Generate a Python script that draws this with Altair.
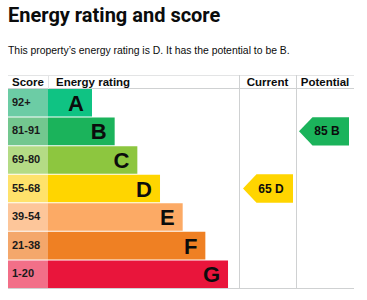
import altair as alt
import pandas as pd

# ---- data ----
ratings = ["A", "B", "C", "D", "E", "F", "G"]
score_bands = ["92+", "81-91", "69-80", "55-68", "39-54", "21-38", "1-20"]
band_colors = ["#0fc383", "#1bb35b", "#8dc63f", "#ffd500", "#fcaa65", "#ef8023", "#e9153b"]
score_colors = ["#6ccca5", "#73c78f", "#b4db85", "#ffe26b", "#fdc69a", "#f4a76b", "#f26f88"]
headers = ["Score", "Energy rating", "Current", "Potential"]
current_score, current_rating = 65, "D"
potential_score, potential_rating = 85, "B"
title_text = "Energy rating and score"
subtitle_text = "This property\u2019s energy rating is D. It has the potential to be B."

# ---- layout ----
W, H = 367, 300
LEFT, SCORE_R, BAR_X0 = 8, 48, 48
A_LEN, STEP = 44, 22.67
CUR_L, POT_L, RIGHT = 239, 296, 354
HEAD_TOP, ROWS_TOP, ROWS_BOT = 75, 89, 288
GRID = "#cfd1d2"

rows = pd.DataFrame({
    "rating": ratings,
    "score": score_bands,
    "bar_color": band_colors,
    "score_color": score_colors,
    "rank": list(range(len(ratings))),
})
rows["x_score0"] = LEFT
rows["x_score1"] = SCORE_R
rows["x_bar0"] = BAR_X0
rows["x_bar1"] = BAR_X0 + A_LEN + STEP * rows["rank"]
rows["x_letter"] = rows["x_bar1"] - 8
rows["x_scoretext"] = LEFT + 4

one = pd.DataFrame({"k": [0]})

xs = alt.Scale(domain=[0, W], range=[0, W], nice=False, zero=False)
ys = alt.Scale(domain=ratings, range=[ROWS_TOP, ROWS_BOT], paddingInner=0.035, paddingOuter=0)

X = lambda f: alt.X(f"{f}:Q", scale=xs, axis=None)
X2 = lambda f: alt.X2(f"{f}:Q")
Y = alt.Y("rating:N", scale=ys, axis=None)

base = alt.Chart(rows)

score_cells = base.mark_rect().encode(
    x=X("x_score0"), x2=X2("x_score1"), y=Y,
    color=alt.Color("score_color:N", scale=None))
bars = base.mark_rect().encode(
    x=X("x_bar0"), x2=X2("x_bar1"), y=Y,
    color=alt.Color("bar_color:N", scale=None))
score_text = base.mark_text(align="left", baseline="middle", font="Liberation Sans",
                            fontWeight="bold", fontSize=11, color="#1a1a1a").encode(
    x=X("x_scoretext"), y=Y, text="score:N")
letters = base.mark_text(align="right", baseline="middle", font="Liberation Sans",
                         fontWeight="bold", fontSize=22, color="#0b0c0c", dy=1).encode(
    x=X("x_letter"), y=Y, text="rating:N")

arrows = pd.DataFrame({
    "rating": [current_rating, potential_rating],
    "label": [f"{current_score} {current_rating}", f"{potential_score} {potential_rating}"],
    "color": [band_colors[ratings.index(current_rating)], band_colors[ratings.index(potential_rating)]],
    "xc": [(CUR_L + POT_L) / 2 + 0.5, (POT_L + RIGHT) / 2 - 1],
})
arrows["xt"] = arrows["xc"] + 3
arrow_shape = "M -1 0 L -0.46 -0.567 L 1 -0.567 L 1 0.567 L -0.46 0.567 Z"
arrow_marks = alt.Chart(arrows).mark_point(shape=arrow_shape, filled=True, opacity=1,
                                           strokeWidth=0, size=2500).encode(
    x=X("xc"), y=Y, color=alt.Color("color:N", scale=None))
arrow_text = alt.Chart(arrows).mark_text(align="center", baseline="middle", font="Liberation Sans",
                                         fontWeight="bold", fontSize=12, color="#0b0c0c").encode(
    x=X("xt"), y=Y, text="label:N")

heads = pd.DataFrame({
    "label": headers,
    "x": [LEFT + 4, BAR_X0 + 8, (CUR_L + POT_L) / 2, (POT_L + RIGHT) / 2],
    "align": ["left", "left", "center", "center"],
})
head_left = alt.Chart(heads[heads["align"] == "left"]).mark_text(
    align="left", baseline="middle", font="Liberation Sans", fontWeight="bold",
    fontSize=11.5, color="#0b0c0c").encode(x=X("x"), y=alt.value((HEAD_TOP + ROWS_TOP) / 2 + 0.5), text="label:N")
head_center = alt.Chart(heads[heads["align"] == "center"]).mark_text(
    align="center", baseline="middle", font="Liberation Sans", fontWeight="bold",
    fontSize=11.5, color="#0b0c0c").encode(x=X("x"), y=alt.value((HEAD_TOP + ROWS_TOP) / 2 + 0.5), text="label:N")

def hline(y, x0, x1, c=GRID):
    return alt.Chart(one).mark_rule(color=c, strokeWidth=1).encode(
        x=alt.value(x0), x2=alt.value(x1), y=alt.value(y))

def vline(x, y0, y1, c=GRID):
    return alt.Chart(one).mark_rule(color=c, strokeWidth=1).encode(
        x=alt.value(x), y=alt.value(y0), y2=alt.value(y1))

lines = [
    hline(HEAD_TOP + 0.5, LEFT, RIGHT, "#e3e4e5"),
    hline(ROWS_TOP - 0.5, LEFT, RIGHT),
    hline(ROWS_BOT + 0.5, LEFT, RIGHT),
    vline(CUR_L + 0.5, HEAD_TOP, ROWS_BOT),
    vline(POT_L + 0.5, HEAD_TOP, ROWS_BOT),
    vline(SCORE_R + 0.5, HEAD_TOP, ROWS_TOP, "#e3e4e5"),
]

title = alt.Chart(one).mark_text(align="left", baseline="alphabetic",
                                 font="Liberation Sans Narrow, Roboto, sans-serif",
                                 fontWeight="bold", fontSize=20, color="#0b0c0c").encode(
    x=alt.value(LEFT), y=alt.value(22), text=alt.value(title_text))
subtitle = alt.Chart(one).mark_text(align="left", baseline="alphabetic", font="Liberation Sans",
                                    fontWeight="normal", fontSize=10.4, color="#0b0c0c").encode(
    x=alt.value(LEFT), y=alt.value(54), text=alt.value(subtitle_text))

chart = alt.layer(
    *lines, score_cells, bars, score_text, letters, arrow_marks, arrow_text,
    head_left, head_center, title, subtitle
).properties(width=W, height=H, padding=0, autosize="none").configure_view(stroke=None)

chart.save("out.html", embed_options={"renderer": "svg", "actions": False})
